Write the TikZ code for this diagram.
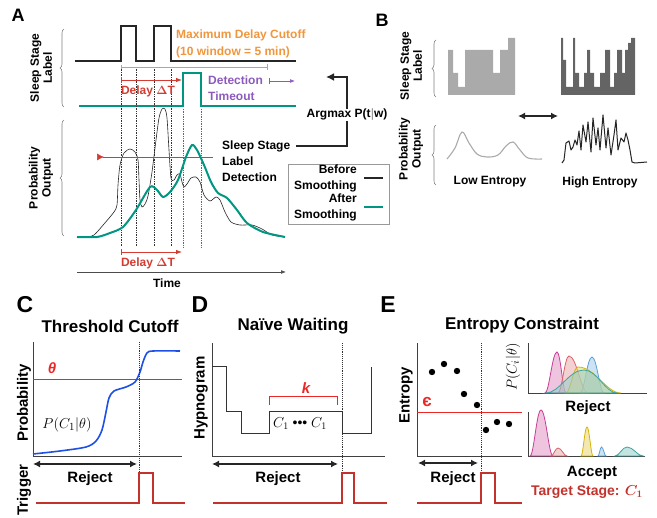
\documentclass[tikz,border=0pt]{standalone}
\usepackage{fontspec}
\setmainfont{Liberation Sans}
\usepackage{amsmath}
\usepackage{tikz}
\usetikzlibrary{arrows.meta,positioning,decorations.pathreplacing}
\definecolor{orangeA}{RGB}{240,150,60}
\definecolor{redA}{RGB}{210,60,50}
\definecolor{tealA}{RGB}{0,150,130}
\definecolor{purpA}{RGB}{140,90,190}
\definecolor{grayL}{RGB}{170,170,170}
\definecolor{grayD}{RGB}{100,100,100}
\definecolor{blueC}{RGB}{30,80,230}
\definecolor{redC}{RGB}{235,40,40}
\definecolor{trigR}{RGB}{195,50,45}
\definecolor{magE}{RGB}{200,60,150}
\definecolor{salE}{RGB}{215,100,105}
\definecolor{bluE}{RGB}{90,160,215}
\definecolor{yelE}{RGB}{215,180,0}
\definecolor{tealE}{RGB}{60,165,160}
% one bump of a class distribution: x0, xpeak, ypeak, x1, ybase
\newcommand{\hump}[5]{(#1,#5) .. controls ({#1+0.35*(#2-#1)},#5) and ({#2-0.4*(#2-#1)},#3) .. (#2,#3) .. controls ({#2+0.4*(#4-#2)},#3) and ({#4-0.35*(#4-#2)},#5) .. (#4,#5) -- cycle}

\begin{document}
\begin{tikzpicture}[x=1pt,y=-1pt,>=Latex,
  letter/.style={font=\fontsize{18}{18}\selectfont\bfseries,inner sep=0pt},
  bigletter/.style={font=\fontsize{23}{23}\selectfont\bfseries,inner sep=0pt},
  txt/.style={font=\fontsize{12}{16}\selectfont\bfseries,align=center,inner sep=0pt},
  rot/.style={font=\fontsize{12}{13}\selectfont\bfseries,align=center,inner sep=0pt,rotate=90},
  ttl/.style={font=\fontsize{17}{18}\selectfont\bfseries,inner sep=0pt},
  big/.style={font=\fontsize{15}{16}\selectfont\bfseries,inner sep=0pt},
  rotbig/.style={big,rotate=90},
  brc/.style={decorate,decoration={brace,amplitude=4pt},draw=gray,line width=0.6pt},
  dotv/.style={densely dotted,line width=0.7pt,black!80},
  dotteal/.style={densely dotted,line width=0.7pt,tealA},
  trig/.style={trigR,line width=1.5pt},
  rej/.style={{Latex[length=7pt,width=7pt]}-{Latex[length=7pt,width=7pt]},line width=1.8pt,black!85},
  ax/.style={black!75,line width=0.9pt},
  dist/.style={draw=#1,fill=#1!55,fill opacity=0.55,line width=0.8pt}]
\useasboundingbox (0,0) rectangle (657,518);

% ---------- A ----------
\node[letter] (lA) at (18,15) {A};
\node[rot] (ylabA1) at (41,68) {Sleep Stage\\Label};
\node[rot] (ylabA2) at (41,178) {Probability\\Output};
\draw[brc] (64,107) -- (64,29);
\draw[brc] (64,236) -- (64,120);
\draw[black!85,line width=1.1pt] (75,61) -- (121,61) -- (121,26) -- (136,26) -- (136,61) -- (154,61) -- (154,26) -- (171,26) -- (171,61) -- (296,61);
\draw[tealA,line width=1.5pt] (79,106) -- (183,106) -- (183,73) -- (201,73) -- (201,106) -- (296,106);
\foreach \x in {121,136,154,171} \draw[dotv] (\x,67) -- (\x,247);
\foreach \x in {183,201} \draw[dotteal] (\x,109) -- (\x,247);
\node[txt,orangeA,anchor=west,align=left,font=\fontsize{12}{17}\selectfont\bfseries] (cutoff) at (176,43.5) {Maximum Delay Cutoff\\(10 window = 5 min)};
\coordinate (cutS) at (121,67);
\coordinate (cutE) at (268,67);
\draw[orangeA,line width=0.6pt,{Bar[width=4pt]}-{Bar[width=6pt]}] (cutS) -- (cutE);
\coordinate (dtS) at (121,80);
\coordinate (dtE) at (182,80);
\draw[redA,thick,{Bar[width=6pt]}-{Latex[length=6pt]}] (dtS) -- (dtE);
\node[txt,redA] (delayTop) at (148,91) {Delay $\boldsymbol{\Delta}$T};
\node[txt,purpA,anchor=west,align=left] (timeout) at (208,88) {Detection\\Timeout};
\coordinate (toS) at (269,81);
\coordinate (toE) at (295,81);
\draw[purpA,line width=0.6pt,{Bar[width=6pt]}-{Latex[length=5pt]}] (toS) -- (toE);
% probability curves
\draw[black!85,line width=0.6pt] plot[smooth,tension=0.45] coordinates {(86,237) (94,235) (104,224) (114,212) (117,205) (118,185) (120,165) (124,153) (130,149) (135,152) (138,160) (139,180) (140,200) (142,207) (145,204) (148,196) (152,172) (156,140) (159,118) (162,109) (165,109) (167,118) (169,150) (171,178) (174,180) (177,175) (180,174) (182,182) (184,187) (187,184) (191,178) (196,177) (200,182) (204,195) (210,201) (216,197) (220,200) (225,212) (231,222) (240,225) (252,225) (262,229) (272,235) (285,237)};
\draw[tealA,line width=2pt] plot[smooth,tension=0.45] coordinates {(77,237) (97,237) (110,233) (123,227) (136,210) (150,187) (157,190) (163,197) (170,192) (178,180) (186,157) (192,145) (197,150) (204,165) (211,182) (218,193) (227,198) (237,210) (247,223) (263,232) (285,237)};
\coordinate (thrS) at (97,157);
\coordinate (thrE) at (213,157);
\draw[redA,line width=0.6pt,{Latex[reversed,length=7pt,width=7pt]}-] (thrS) -- (thrE);
\coordinate (dbS) at (121,252);
\coordinate (dbE) at (182,252);
\draw[redA,thick,{Bar[width=6pt]}-{Latex[length=6pt]}] (dbS) -- (dbE);
\node[txt,redA] (delayBot) at (148,263) {Delay $\boldsymbol{\Delta}$T};
\coordinate (tS) at (77,272);
\coordinate (tE) at (286,272);
\draw[black!70,line width=0.6pt,-{Latex[length=5pt]}] (tS) -- (tE);
\node[txt] (time) at (167,283) {Time};
\node[txt,anchor=west,align=left] (det) at (222,161) {Sleep Stage\\Label\\Detection};
\node[txt] (argmax) at (347,115) {Argmax P(t$|$w)};
\coordinate (detpt) at (296,146);
\coordinate (argtip) at (326,77);
\draw[black!85,line width=1.6pt] (detpt) -| (argmax.south);
\draw[black!85,line width=1.6pt,-{Latex[length=8pt,width=8pt]}] (argmax.north) |- (argtip);
% legend
\draw[gray!80] (288,164) rectangle (389,224);
\node[txt,anchor=east,align=right] (before) at (357,178) {Before\\Smoothing};
\node[txt,anchor=east,align=right] (after) at (357,207.5) {After\\Smoothing};
\draw[black!85,line width=1.6pt] (364,178) -- (383,178);
\draw[tealA,line width=1.6pt] (364,207) -- (383,207);

% ---------- B ----------
\node[letter] (lB) at (382,20) {B};
\node[rot] (ylabB1) at (411,66) {Sleep Stage\\Label};
\node[rot] (ylabB2) at (411,149) {Probability\\Output};
\draw[brc] (436,97) -- (436,40);
\draw[brc] (436,185) -- (436,125);
\fill[grayL] (448,95) -- (448,50) -| (453,73) -| (458,87) -| (465,50) -| (493,73) -| (500,50) -| (508,38) -| (515,95) -- cycle;
\fill[grayD] (561,95) -- (561,38) -| (563,60) -| (566,87) -| (573,38) -| (575,73) -| (579,87) -| (584,73) -| (587,50) -| (590,73) -| (594,87) -| (600,73) -| (605,50) -| (610,87) -| (614,73) -| (617,50) -| (622,73) -| (625,50) -| (628,43) -| (631,38) -| (635,95) -- cycle;
\coordinate (entL) at (518,116);
\coordinate (entR) at (558,116);
\draw[black!85,line width=1.8pt,{Latex[length=7pt,width=7pt]}-{Latex[length=7pt,width=7pt]}] (entL) -- (entR);
\draw[grayL,line width=1.1pt] plot[smooth,tension=0.6] coordinates {(447,159) (455,148) (462,132) (469,143) (477,154) (487,157) (498,155) (506,146) (513,142) (520,150) (528,158) (542,159)};
\draw[black!85,line width=1pt,line join=round] (562,163) -- (564,160) -- (566,143) -- (569,141) -- (571,150) -- (573,147) -- (575,140) -- (577,145) -- (579,131) -- (581,150) -- (583,125) -- (586,142) -- (588,122) -- (591,152) -- (593,118) -- (596,145) -- (598,128) -- (600,150) -- (603,115) -- (606,148) -- (608,128) -- (611,155) -- (614,135) -- (616,120) -- (618,150) -- (621,138) -- (624,142) -- (626,133) -- (628,140) -- (630,150) -- (632,162) -- (635,163) -- (647,162);
\node[txt] (lowent) at (490,182) {Low Entropy};
\node[txt] (highent) at (600,182) {High Entropy};

% ---------- C ----------
\node[bigletter] (lC) at (25,305) {C};
\node[ttl] (ttlC) at (110,326) {Threshold Cutoff};
\draw[ax] (33,342) -- (33,456) -- (182,456);
\node[rotbig] (probC) at (24,403) {Probability};
\draw[redC,line width=0.7pt] (33,379) -- (182,379);
\node[big,redC] (thetaC) at (52,368) {\itshape θ};
\draw[blueC,line width=1.6pt] plot[smooth,tension=0.5] coordinates {(33,454) (60,451) (86,447) (96,441) (102,430) (106,412) (109,398) (114,391) (126,387) (135,382) (140,372) (143,362) (147,353) (153,351) (180,351)};
\node[font=\fontsize{15}{16}\selectfont] (pC) at (67,425) {$P(C_1|\theta)$};
\draw[dotv,line width=0.9pt] (139,342) -- (139,473);
\coordinate (rcS) at (33,464);
\coordinate (rcE) at (137,464);
\draw[rej] (rcS) -- (rcE);
\node[big] (rejC) at (90,479) {Reject};
\node[rotbig] (trigC) at (24,490) {Trigger};
\draw[trig] (36,503) -- (139,503) -- (139,473) -- (153,473) -- (153,503) -- (185,503);

% ---------- D ----------
\node[bigletter] (lD) at (200,305) {D};
\node[ttl] (ttlD) at (293,326) {Na\"ive Waiting};
\draw[ax] (212,343) -- (212,456) -- (385,456);
\node[rotbig] (hypD) at (201,398) {Hypnogram};
\draw[black!80,line width=1pt] (212,367) -- (226,367) -- (226,412) -- (241,412) -- (241,434) -- (269,434) -- (269,412) -- (342,412) -- (342,434) -- (371,434) -- (371,367);
\draw[redC,line width=1pt] (269,405) -- (269,397) -- (337,397) -- (337,405);
\node[big,redC] (kD) at (306,388) {\itshape k};
\node[font=\fontsize{14}{16}\selectfont] (cD) at (300,424) {$C_1$ \textbullet\textbullet\textbullet\ $C_1$};
\draw[dotv,line width=0.9pt] (342,343) -- (342,473);
\coordinate (rdS) at (212,464);
\coordinate (rdE) at (338,464);
\draw[rej] (rdS) -- (rdE);
\node[big] (rejD) at (278,479) {Reject};
\draw[trig] (213,503) -- (342,503) -- (342,473) -- (354,473) -- (354,503) -- (387,503);

% ---------- E ----------
\node[bigletter] (lE) at (388,305) {E};
\node[ttl] (ttlE) at (522,325) {Entropy Constraint};
\draw[ax] (417,343) -- (417,456) -- (522,456);
\node[rotbig] (entE) at (406,395) {Entropy};
\draw[redC,line width=0.7pt] (417,412) -- (522,412);
\node[big,redC,font=\fontsize{17}{18}\selectfont\bfseries] (epsE) at (427,402) {є};
\foreach \x/\y in {432/372,444/364,457/371,464/394,477/405,486/430,497/422,509/424}
  \fill[black] (\x,\y) circle (3.2pt);
\draw[dotv,line width=0.9pt] (481,343) -- (481,473);
\coordinate (reS) at (418,463);
\coordinate (reE) at (478,463);
\draw[rej] (reS) -- (reE);
\node[big] (rejE) at (453,479) {Reject};
\draw[trig] (417,503) -- (481,503) -- (481,473) -- (495,473) -- (495,503) -- (522,503);
% class distributions
\draw[ax,line width=0.7pt] (528,343) -- (528,393) -- (647,393);
\node[font=\fontsize{15}{16}\selectfont,rotate=90] (pE) at (513,367) {$P(C_i|\theta)$};
\draw[dist=magE] \hump{545}{557}{352}{566}{393};
\draw[dist=salE] \hump{558}{569}{356}{588}{393};
\draw[dist=bluE] \hump{580}{592}{357}{604}{393};
\draw[dist=yelE] \hump{566}{578}{367}{621}{393};
\draw[dist=tealE] \hump{546}{584}{370}{617}{393};
\node[big] (rejE2) at (588,408) {Reject};
\draw[ax,line width=0.7pt] (528,412) -- (528,456) -- (645,456);
\draw[dist=magE] \hump{530}{541}{410}{553}{456};
\draw[dist=salE] \hump{551}{558}{448}{567}{456};
\draw[dist=yelE] \hump{581}{587}{427}{593}{456};
\draw[dist=bluE] \hump{598}{601.5}{447}{606}{456};
\draw[dist=tealE] \hump{615}{627}{447}{643}{456};
\node[big] (accE) at (592,473) {Accept};
\node[font=\fontsize{14}{16}\selectfont\bfseries,trigR,inner sep=0pt] (target) at (587,492) {Target Stage: $\boldsymbol{C_1}$};
\end{tikzpicture}
\end{document}
